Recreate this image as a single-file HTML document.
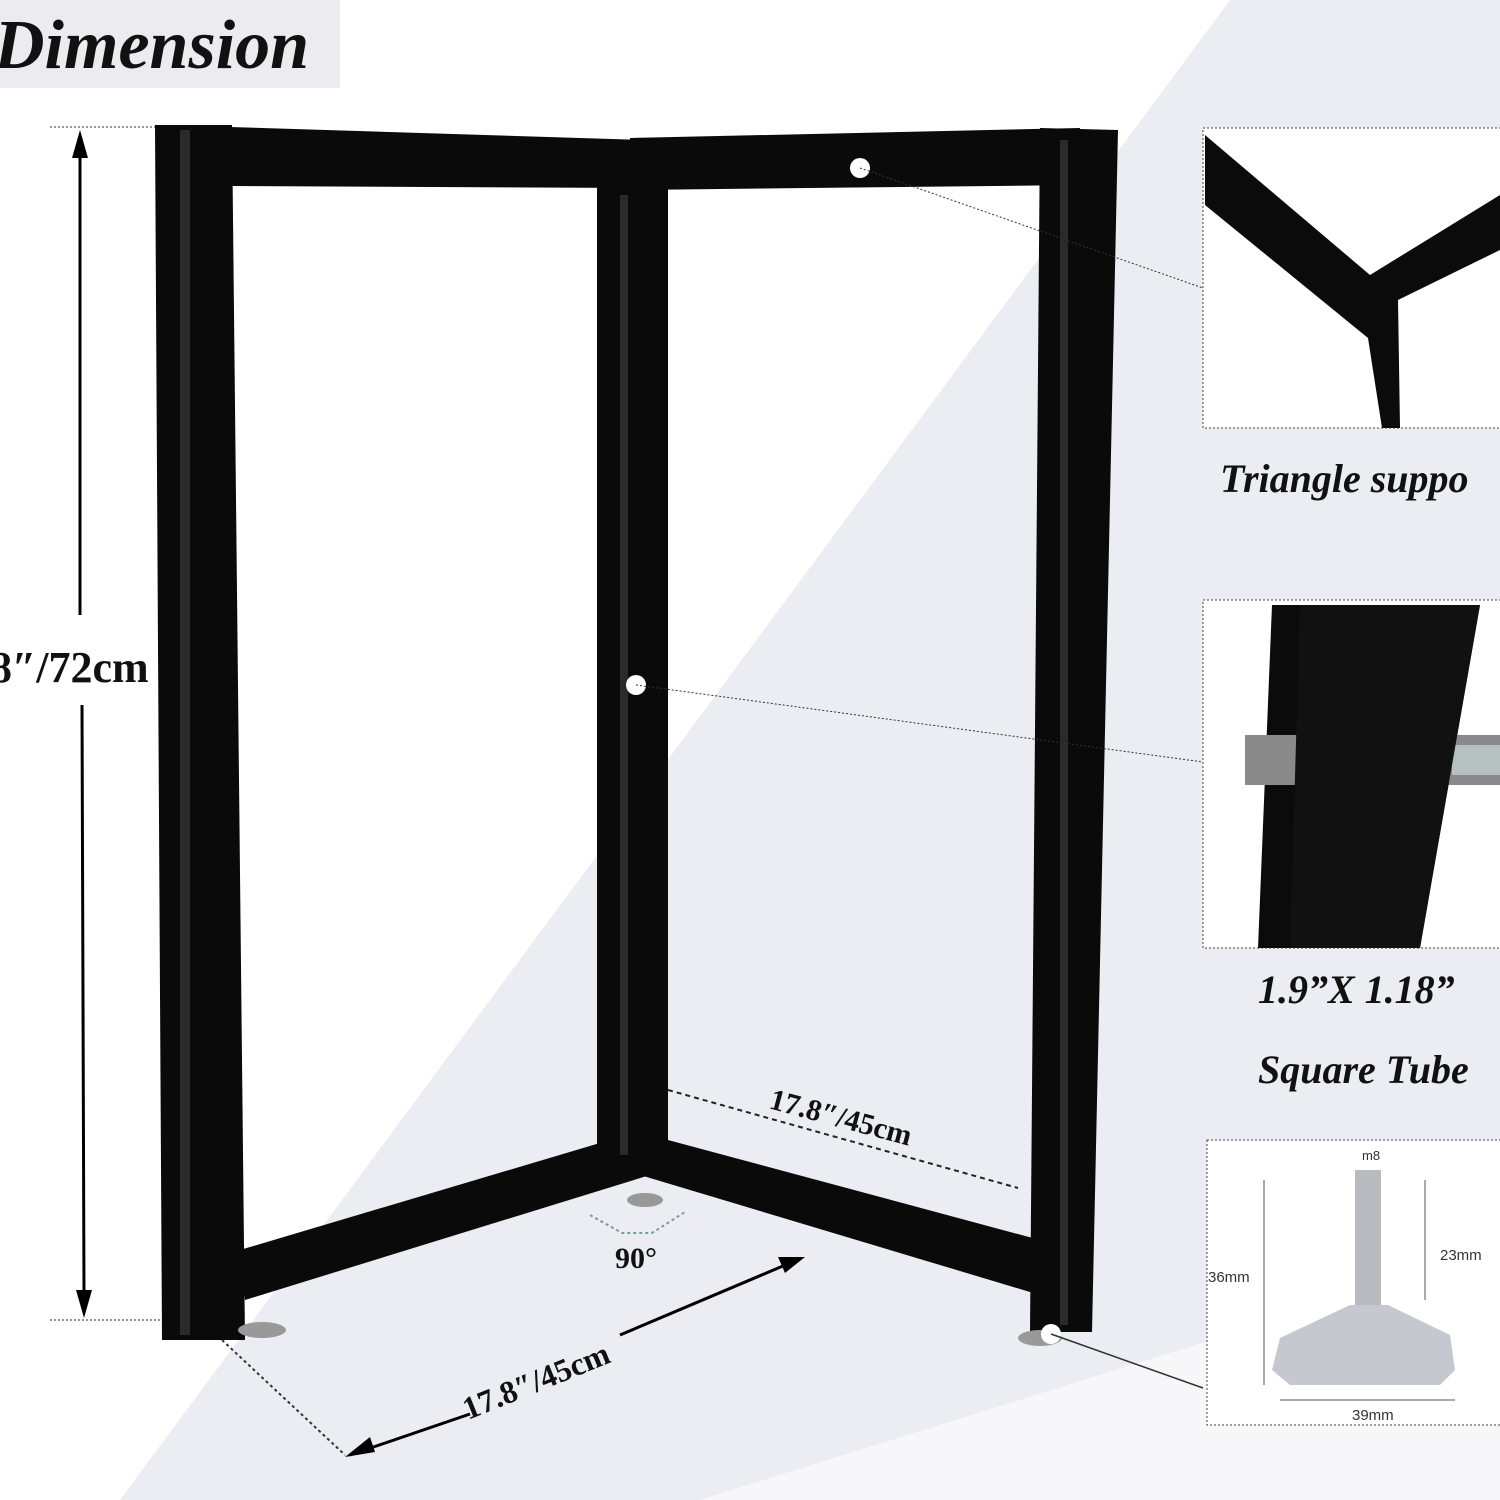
<!DOCTYPE html>
<html><head><meta charset="utf-8"><style>
html,body{margin:0;padding:0;background:#fff}
svg{display:block}
text{font-family:"Liberation Serif",serif;font-weight:bold}
text.s{font-family:"Liberation Sans",sans-serif;font-weight:normal}
</style></head><body>
<svg width="1500" height="1500" viewBox="0 0 1500 1500" xmlns="http://www.w3.org/2000/svg">
<rect width="1500" height="1500" fill="#fff"/>
<polygon points="1230,0 1500,0 1500,1250 700,1500 120,1500" fill="#ececf3"/>
<polygon points="1500,1250 1500,1500 700,1500" fill="#f7f7fa"/>
<!-- title -->
<rect x="0" y="0" width="340" height="88" fill="#ebebf0"/>
<text x="-6" y="68" font-size="70" font-style="italic" fill="#111">Dimension</text>
<!-- height dimension -->
<line x1="50" y1="127" x2="155" y2="127" stroke="#333" stroke-dasharray="2,2"/>
<line x1="50" y1="1320" x2="160" y2="1320" stroke="#333" stroke-dasharray="2,2"/>
<line x1="80" y1="150" x2="80" y2="615" stroke="#000" stroke-width="3"/>
<line x1="82" y1="705" x2="84" y2="1295" stroke="#000" stroke-width="3"/>
<polygon points="80,130 72,158 88,158" fill="#000"/>
<polygon points="84,1318 76,1290 92,1290" fill="#000"/>
<text x="-10" y="682" font-size="44" fill="#111">8″/72cm</text>
<!-- frame -->
<g fill="#0a0a0a">
<polygon points="230,127 645,140 645,188 230,186"/>
<polygon points="630,138 1080,128 1080,185 630,190"/>
<polygon points="597,185 668,185 668,1165 597,1165"/>
<polygon points="155,125 232,125 245,1340 162,1340"/>
<polygon points="1040,128 1118,130 1092,1332 1030,1332"/>
<polygon points="240,1250 610,1140 650,1150 650,1175 245,1300"/>
<polygon points="630,1145 668,1140 1040,1240 1040,1295 640,1175"/>
</g>
<g fill="#2a2a2a">
<rect x="180" y="130" width="10" height="1205"/>
<rect x="620" y="195" width="8" height="960"/>
<rect x="1060" y="140" width="8" height="1185"/>
</g>
<!-- feet -->
<ellipse cx="262" cy="1330" rx="24" ry="8" fill="#999"/>
<ellipse cx="645" cy="1200" rx="18" ry="7" fill="#999"/>
<ellipse cx="1040" cy="1338" rx="22" ry="8" fill="#999"/>
<circle cx="860" cy="168" r="10" fill="#fff"/>
<circle cx="636" cy="685" r="10" fill="#fff"/>
<circle cx="1051" cy="1334" r="10" fill="#fff"/>
<!-- callout lines -->
<line x1="860" y1="168" x2="1203" y2="288" stroke="#333" stroke-dasharray="2,2"/>
<line x1="636" y1="685" x2="1203" y2="762" stroke="#333" stroke-dasharray="2,2"/>
<line x1="1051" y1="1334" x2="1203" y2="1388" stroke="#333" stroke-width="1.5"/>
<!-- bottom dims -->
<line x1="668" y1="1090" x2="1018" y2="1188" stroke="#222" stroke-width="2" stroke-dasharray="5,4"/>
<text x="0" y="0" font-size="30" fill="#111" transform="translate(768,1108) rotate(15)">17.8″/45cm</text>
<line x1="222" y1="1340" x2="345" y2="1455" stroke="#333" stroke-width="2" stroke-dasharray="3,3"/>
<line x1="350" y1="1455" x2="470" y2="1414" stroke="#000" stroke-width="3"/>
<line x1="620" y1="1335" x2="790" y2="1263" stroke="#000" stroke-width="3"/>
<polygon points="345,1457 370,1437 375,1452" fill="#000"/>
<polygon points="805,1257 778,1257 785,1273" fill="#000"/>
<text x="0" y="0" font-size="32" fill="#111" transform="translate(468,1420) rotate(-22)">17.8″/45cm</text>
<polyline points="590,1215 622,1233 652,1233 685,1212" fill="none" stroke="#7a9a9a" stroke-width="2" stroke-dasharray="3,3"/>
<text x="615" y="1268" font-size="30" fill="#111">90°</text>
<!-- inset 1 -->
<rect x="1203" y="128" width="300" height="300" fill="#fff" stroke="#444" stroke-dasharray="2,2"/>
<polygon points="1205,135 1370,275 1500,195 1500,250 1398,300 1400,428 1382,428 1368,338 1205,205" fill="#0b0b0b"/>
<text x="1220" y="492" font-size="40" font-style="italic" fill="#111">Triangle suppo</text>
<!-- inset 2 -->
<rect x="1203" y="600" width="300" height="348" fill="#fff" stroke="#444" stroke-dasharray="2,2"/>
<polygon points="1272,605 1480,605 1420,948 1258,948" fill="#0b0b0b"/>
<rect x="1245" y="735" width="255" height="50" fill="#8a8a8a"/>
<rect x="1452" y="745" width="48" height="30" fill="#b5c0c0"/>
<polygon points="1300,605 1480,605 1420,948 1290,948" fill="#111"/>
<text x="1258" y="1003" font-size="40" font-style="italic" fill="#111">1.9”X  1.18”</text>
<text x="1258" y="1083" font-size="40" font-style="italic" fill="#111">Square Tube</text>
<!-- inset 3 -->
<rect x="1207" y="1140" width="296" height="285" fill="#fff" stroke="#444" stroke-dasharray="2,2"/>
<rect x="1355" y="1170" width="26" height="140" fill="#b8bcc0"/>
<path d="M1350,1305 L1388,1305 L1450,1335 L1455,1370 L1440,1385 L1290,1385 L1272,1370 L1280,1338 Z" fill="#c5c9cf"/>
<text class="s" x="1362" y="1160" font-size="13" fill="#333">m8</text>
<text class="s" x="1208" y="1282" font-size="15" fill="#333">36mm</text>
<text class="s" x="1440" y="1260" font-size="15" fill="#333">23mm</text>
<text class="s" x="1352" y="1420" font-size="15" fill="#333">39mm</text>
<line x1="1264" y1="1180" x2="1264" y2="1385" stroke="#555"/>
<line x1="1425" y1="1180" x2="1425" y2="1300" stroke="#555"/>
<line x1="1280" y1="1400" x2="1455" y2="1400" stroke="#555"/>
</svg>
</body></html>
